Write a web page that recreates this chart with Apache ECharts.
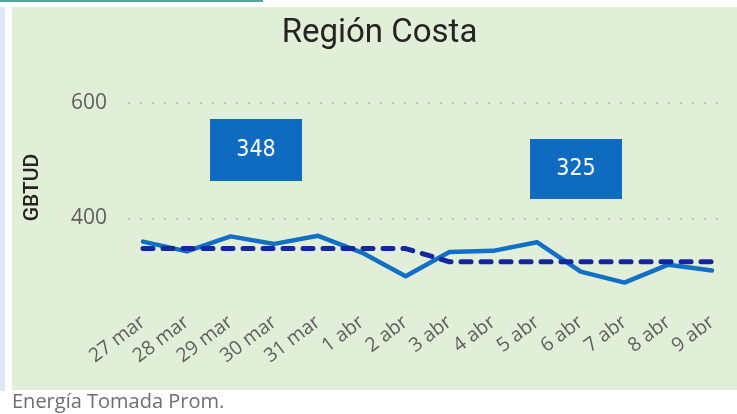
<!DOCTYPE html>
<html>
<head>
<meta charset="utf-8">
<script src="https://cdn.jsdelivr.net/npm/echarts@6/dist/echarts.min.js"></script>
<style>
html,body{margin:0;padding:0;background:#ffffff;}
#chart{width:737px;height:414px;}
</style>
</head>
<body>
<div id="chart"></div>
<script>
const categories = ['27 mar','28 mar','29 mar','30 mar','31 mar','1 abr','2 abr','3 abr','4 abr','5 abr','6 abr','7 abr','8 abr','9 abr'];
const energia = [360, 343, 369, 356, 370, 341, 300, 342, 344, 359, 308, 289, 320, 310];
const promedioSemanal = [348, 348, 348, 348, 348, 348, 348, 325, 325, 325, 325, 325, 325, 325];
const tarjetas = [348, 325];
const yTicks = [400, 600];

const chart = echarts.init(document.getElementById('chart'), null, {renderer:'canvas'});
const option = {
  animation: false,
  backgroundColor: '#ffffff',
  title: {
    text: 'Región Costa',
    left: 374.5, top: 12, textAlign: 'center',
    textStyle: {fontFamily: 'Roboto', fontSize: 33, fontWeight: 'normal', color: '#252423'}
  },
  graphic: [
    {type:'rect', z:-10, shape:{x:0,y:0,width:263,height:2}, style:{fill:'#52a6a2'}},
    {type:'rect', z:-10, shape:{x:0,y:7,width:5,height:384}, style:{fill:'#dce8f5'}},
    {type:'rect', z:-10, shape:{x:12,y:7,width:725,height:383}, style:{fill:'#e1efd9'}},
    {type:'text', x:32.5, y:187.5, rotation: Math.PI/2,
      style:{text:'GBTUD', fontFamily:'Roboto', fontSize:21, fontWeight:500, fill:'#252423', align:'center', verticalAlign:'middle'}},
    {type:'text', x:12, y:402,
      style:{text:'Energía Tomada Prom.', fontFamily:'Open Sans', fontSize:20, fill:'#6e6e6e', align:'left', verticalAlign:'middle'}},
    {type:'rect', shape:{x:210,y:119,width:92,height:62}, style:{fill:'#0f6bbf'}},
    {type:'text', x:256, y:150, style:{text:String(tarjetas[0]), fontFamily:'DejaVu Sans Condensed', fontSize:23, fill:'#ffffff', align:'center', verticalAlign:'middle'}},
    {type:'rect', shape:{x:530,y:139,width:92,height:60}, style:{fill:'#0f6bbf'}},
    {type:'text', x:576, y:169, style:{text:String(tarjetas[1]), fontFamily:'DejaVu Sans Condensed', fontSize:23, fill:'#ffffff', align:'center', verticalAlign:'middle'}}
  ],
  grid: [
    {left:128, right:19, top:103, bottom:80},
    {left:143, right:25, top:103, bottom:80}
  ],
  xAxis: [
    {gridIndex:0, type:'value', min:0, max:1, show:false},
    {gridIndex:1, type:'category', data:categories, boundaryGap:false,
      axisLine:{show:false}, axisTick:{show:false},
      axisLabel:{interval:0, rotate:37, margin:-14, fontFamily:'Open Sans', fontSize:19.5, color:'#605e5c'}}
  ],
  yAxis: [
    {gridIndex:0, type:'value', min:200, max:600, interval:200,
      axisLine:{show:false}, axisTick:{show:false},
      axisLabel:{margin:21, fontFamily:'Open Sans', fontSize:21, color:'#605e5c',
        formatter: v => yTicks.indexOf(v) >= 0 ? String(v) : ''},
      splitLine:{show:true, lineStyle:{color:['rgba(0,0,0,0)','#c4c6c2','#c4c6c2'], width:2, type:[2,10]}}},
    {gridIndex:1, type:'value', min:200, max:600, interval:200, show:false, splitLine:{show:false}}
  ],
  series: [
    {type:'line', xAxisIndex:1, yAxisIndex:1, data:energia, symbol:'none',
      lineStyle:{color:'#1170c6', width:4.5, join:'round', cap:'round'}},
    {type:'line', xAxisIndex:1, yAxisIndex:1, data:promedioSemanal, symbol:'none',
      lineStyle:{color:'#1426a0', width:5, type:[10,10], cap:'round', join:'round'}}
  ]
};
chart.setOption(option);
</script>
</body>
</html>
